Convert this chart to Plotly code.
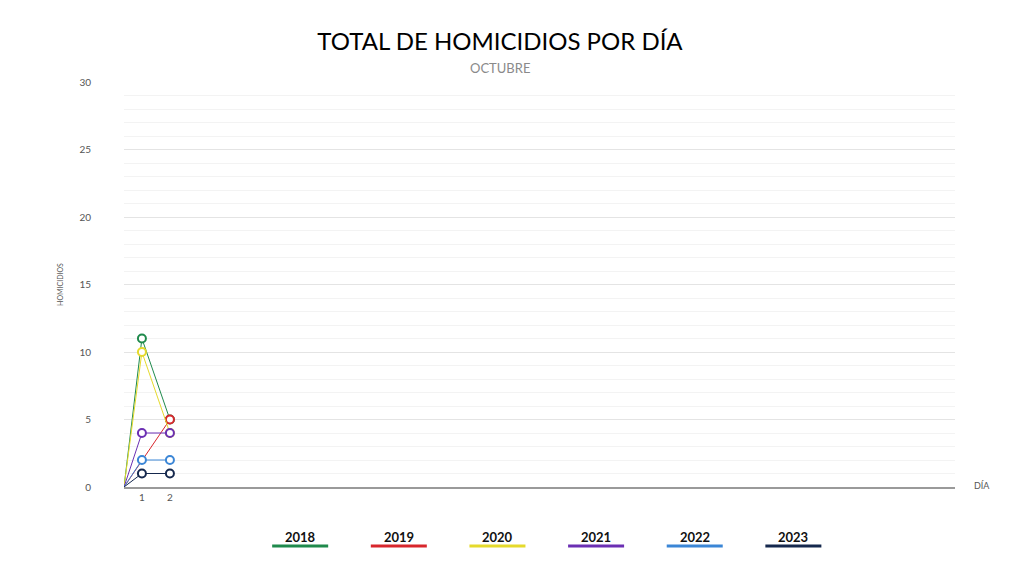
import plotly.graph_objects as go

# datos
dias = [1, 2]
dia_inicio = 0.36  # todas las series parten de cero en el borde del eje
anios = ["2018", "2019", "2020", "2021", "2022", "2023"]
homicidios_2018 = [11, 5]
homicidios_2019 = [None, 5]
homicidios_2020 = [10, 4]
homicidios_2021 = [4, 4]
homicidios_2022 = [2, 2]
homicidios_2023 = [1, 1]
colores = ["#1f8a4c", "#d8262c", "#e5da2c", "#6b2fb3", "#3b86d6", "#15284d"]

series = [
    homicidios_2018,
    homicidios_2019,
    homicidios_2020,
    homicidios_2021,
    homicidios_2022,
    homicidios_2023,
]

fig = go.Figure()

for anio, valores, color in zip(anios, series, colores):
    fig.add_trace(
        go.Scatter(
            x=[dia_inicio] + dias,
            y=[0] + valores,
            mode="lines+markers",
            name=anio,
            connectgaps=True,
            line=dict(color=color, width=1),
            marker=dict(
                size=[0] + [8] * len(dias),
                color="white",
                opacity=1,
                line=dict(color=color, width=2),
            ),
            showlegend=False,
            cliponaxis=False,
        )
    )

# leyenda propia: texto con linea de color debajo (coordenadas del area de trazado)
for i, (anio, color) in enumerate(zip(anios, colores)):
    cx = 0.212 + i * 0.1187
    fig.add_annotation(
        x=cx, y=-0.1235, xref="paper", yref="paper",
        xanchor="center", yanchor="middle",
        text=f"<b>{anio}</b>", showarrow=False,
        font=dict(size=13, color="#111", family="Lato, sans-serif"),
    )
    fig.add_shape(
        type="line", xref="paper", yref="paper",
        x0=cx - 0.0337, x1=cx + 0.0337, y0=-0.1457, y1=-0.1457,
        line=dict(color=color, width=3),
    )

fig.add_annotation(
    x=0.4525, y=1.0346, xref="paper", yref="paper",
    xanchor="center", yanchor="middle",
    text="OCTUBRE", showarrow=False,
    font=dict(size=13, color="#8a8a8a", family="Lato, sans-serif"),
)
fig.add_annotation(
    x=1.0325, y=0.0025, xref="paper", yref="paper",
    xanchor="center", yanchor="middle",
    text="DÍA", showarrow=False,
    font=dict(size=9, color="#555", family="Lato, sans-serif"),
)

fig.update_layout(
    width=1024,
    height=576,
    margin=dict(l=124, r=69, t=82, b=89),
    title=dict(
        text="TOTAL DE HOMICIDIOS POR DÍA",
        x=500 / 1024, xanchor="center", y=0.927, yanchor="middle",
        font=dict(size=24, color="black", family="Lato, sans-serif"),
    ),
    xaxis=dict(
        range=[dia_inicio, 30.04],
        tickvals=dias,
        showgrid=False,
        zeroline=False,
        showline=True,
        linecolor="#9a9a9a",
        linewidth=2,
        ticks="",
        tickfont=dict(size=10, color="#555"),
    ),
    yaxis=dict(
        range=[0, 30],
        dtick=5,
        showgrid=True,
        gridcolor="#e4e4e4",
        gridwidth=1,
        minor=dict(dtick=1, showgrid=True, gridcolor="#f3f3f3", gridwidth=1),
        zeroline=False,
        showline=False,
        ticks="",
        ticklabelstandoff=32,
        tickfont=dict(size=10, color="#555"),
        title=dict(text="HOMICIDIOS", font=dict(size=7, color="#555"), standoff=14),
    ),
    plot_bgcolor="white",
    paper_bgcolor="white",
    font=dict(family="Lato, sans-serif", color="#555"),
)

fig.write_html(
    "out.html",
    config={"displayModeBar": False},
    post_script="document.body.style.margin='0';",
)
